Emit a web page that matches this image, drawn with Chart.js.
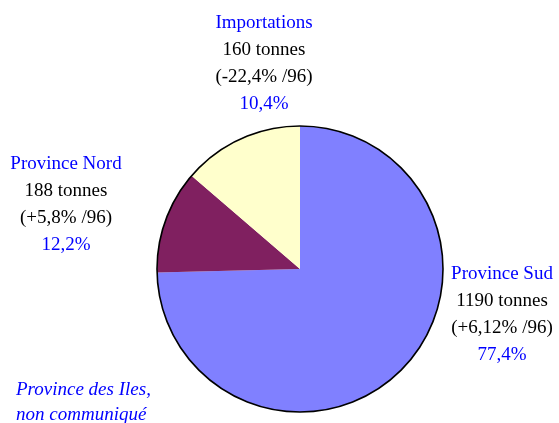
<!DOCTYPE html>
<html>
<head>
<meta charset="utf-8">
<script src="https://cdn.jsdelivr.net/npm/chart.js@4"></script>
<style>
    html, body { margin: 0; padding: 0; background: #ffffff; }
    #box { width: 559px; height: 423px; position: relative; }
</style>
</head>
<body>
<div id="box"><canvas id="graficaPastel"></canvas></div>
<script>
// données
const categories = ["Province Sud", "Province Nord", "Importations"];
const tonnes = [1190, 188, 160];
const variations = ["+6,12%", "+5,8%", "-22,4%"];
const percents = ["77,4%", "12,2%", "10,4%"];
const sliceShares = [74.6, 11.7, 13.7]; // parts telles que dessinées
const colors = ["#8080ff", "#802060", "#ffffcc"];
const noteLines = ["Province des Iles,", "non communiqué"];

// position du bloc de texte de chaque catégorie (centre x, y de la 1re ligne)
const labelPos = [
    { x: 502, y: 274 },
    { x: 66, y: 164 },
    { x: 264, y: 23 }
];

const fontName = "'Liberation Serif', 'Times New Roman', serif";

const etiquettes = {
    id: "etiquettes",
    afterDatasetsDraw(chart) {
        const ctx = chart.ctx;
        const arc = chart.getDatasetMeta(0).data[0];

        // contour extérieur du camembert
        ctx.save();
        ctx.beginPath();
        ctx.arc(arc.x, arc.y, arc.outerRadius, 0, Math.PI * 2);
        ctx.lineWidth = 1.6;
        ctx.strokeStyle = "#000000";
        ctx.stroke();

        ctx.textAlign = "center";
        ctx.textBaseline = "middle";
        ctx.font = "19px " + fontName;

        categories.forEach((cat, i) => {
            const p = labelPos[i];
            const lignes = [
                [cat, "#0000ff"],
                [tonnes[i] + " tonnes", "#000000"],
                ["(" + variations[i] + " /96)", "#000000"],
                [percents[i], "#0000ff"]
            ];
            lignes.forEach((l, k) => {
                ctx.fillStyle = l[1];
                ctx.fillText(l[0], p.x, p.y + k * 27);
            });
        });

        ctx.font = "italic 19px " + fontName;
        ctx.fillStyle = "#0000ff";
        ctx.textAlign = "left";
        noteLines.forEach((t, k) => {
            ctx.fillText(t, 16, 390 + k * 25);
        });
        ctx.restore();
    }
};

new Chart(document.getElementById("graficaPastel"), {
    type: "pie",
    data: {
        labels: categories,
        datasets: [
            {
                data: sliceShares,
                backgroundColor: colors,
                borderWidth: 0
            }
        ]
    },
    options: {
        responsive: true,
        maintainAspectRatio: false,
        animation: false,
        layout: {
            padding: { left: 157, right: 116, top: 126, bottom: 11 }
        },
        plugins: {
            legend: { display: false },
            tooltip: { enabled: false }
        }
    },
    plugins: [etiquettes]
});
</script>
</body>
</html>
